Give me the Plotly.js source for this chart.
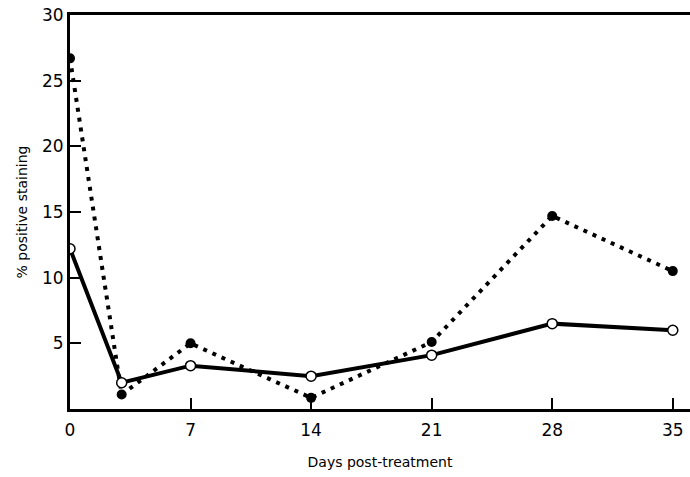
<!DOCTYPE html>
<html><head><meta charset="utf-8">
<script src="https://cdn.plot.ly/plotly-3.0.1.min.js"></script>
<style>html,body{margin:0;padding:0;background:#fff}#chart{width:690px;height:477px}</style>
</head><body><div id="chart"></div>
<script>
var days = [0, 3, 7, 14, 21, 28, 35];
var filledSeries = [26.7, 1.1, 5.0, 0.85, 5.1, 14.7, 10.5];
var openSeries = [12.2, 2.0, 3.3, 2.5, 4.1, 6.5, 6.0];
var xTicks = [0, 7, 14, 21, 28, 35];
var yTicks = [5, 10, 15, 20, 25, 30];

var font = "Century Gothic, 'DejaVu Sans', sans-serif";
var traces = [
  {x: days, y: filledSeries, mode: 'lines+markers', type: 'scatter',
   line: {color: '#000', width: 4, dash: '4px,6px'},
   marker: {color: '#000', size: 10, line: {color: '#000', width: 0}}},
  {x: days, y: openSeries, mode: 'lines+markers', type: 'scatter',
   line: {color: '#000', width: 4},
   marker: {color: '#fff', size: 10, line: {color: '#000', width: 1.5}}}
];
var layout = {
  width: 690, height: 477,
  margin: {l: 70, r: 0, t: 15, b: 68},
  paper_bgcolor: '#fff', plot_bgcolor: '#fff',
  showlegend: false,
  font: {family: font, color: '#000'},
  xaxis: {range: [0, 36], tickvals: xTicks, ticktext: xTicks.map(String),
    showgrid: false, zeroline: false, showline: true, linecolor: '#000', linewidth: 3,
    mirror: true, ticks: 'inside', ticklen: 11, tickwidth: 2, tickcolor: '#000',
    tickfont: {size: 17, family: font}, ticklabelstandoff: 4,
    title: {text: 'Days post-treatment', font: {size: 14, family: font}, standoff: 18}},
  yaxis: {range: [0, 30], tickvals: yTicks, ticktext: yTicks.map(String),
    showgrid: false, zeroline: false, showline: true, linecolor: '#000', linewidth: 3,
    ticks: 'inside', ticklen: 11, tickwidth: 2, tickcolor: '#000',
    tickfont: {size: 17, family: font},
    title: {text: '% positive staining', font: {size: 14, family: font}, standoff: 12}}
};
Plotly.newPlot('chart', traces, layout, {displayModeBar: false, staticPlot: true});
</script></body></html>
